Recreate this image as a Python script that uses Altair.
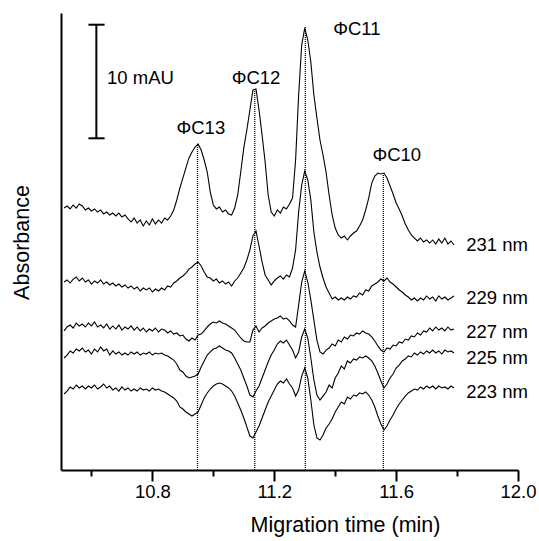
import altair as alt
import pandas as pd

FONT = "Liberation Sans"

# sampling times (min)
time_min = [round(10.51 + 0.01 * i, 2) for i in range(129)]

wavelengths = ["231 nm", "229 nm", "227 nm", "225 nm", "223 nm"]

# absorbance traces (mAU, already offset for display)
abs_231 = [
    23.06, 23.24, 22.98, 23.33, 23.06, 23.42, 23.24, 22.89, 23.06, 22.80,
    22.98, 22.71, 22.89, 22.54, 22.71, 22.45, 22.62, 22.36, 22.62, 22.27,
    22.45, 22.10, 21.83, 22.18, 21.74, 22.01, 21.48, 21.92, 21.57, 22.10,
    21.66, 22.01, 21.74, 22.18, 22.01, 22.36, 22.89, 23.77, 24.82, 25.70,
    26.59, 27.47, 27.99, 28.43, 28.70, 28.17, 27.29, 26.23, 24.47, 23.33,
    22.98, 23.15, 22.71, 22.89, 22.54, 22.45, 23.06, 24.21, 26.23, 28.35,
    29.93, 31.69, 33.45, 33.54, 31.69, 29.49, 27.11, 24.21, 22.71, 22.36,
    22.89, 22.62, 23.15, 22.98, 23.42, 23.94, 27.29, 33.01, 37.41, 38.91,
    37.85, 35.92, 33.01, 30.99, 29.05, 27.73, 26.23, 24.21, 22.45, 21.30,
    20.69, 20.42, 20.60, 20.25, 20.60, 20.86, 21.04, 21.48, 22.01, 22.89,
    23.94, 25.26, 25.88, 26.14, 26.06, 26.14, 25.70, 25.00, 24.30, 23.50,
    22.98, 22.36, 21.66, 21.13, 20.69, 20.42, 20.16, 20.42, 20.07, 20.25,
    19.98, 20.25, 19.89, 20.33, 19.98, 20.42, 19.89, 20.16, 19.81,
]
abs_229 = [
    16.55, 16.73, 16.46, 16.81, 16.99, 16.64, 16.90, 16.55, 16.73, 16.37,
    16.64, 16.46, 16.73, 16.37, 16.55, 16.29, 16.46, 16.20, 16.37, 16.11,
    16.29, 16.02, 16.20, 15.93, 16.11, 15.76, 16.02, 15.85, 16.02, 15.67,
    15.93, 15.76, 16.02, 15.85, 16.20, 16.11, 16.46, 16.64, 16.90, 17.08,
    17.34, 17.69, 17.87, 18.13, 18.31, 17.96, 17.43, 16.99, 16.90, 16.64,
    16.81, 16.46, 16.64, 16.37, 16.55, 16.20, 16.64, 16.90, 17.34, 17.78,
    18.49, 19.37, 20.60, 21.04, 19.72, 18.31, 17.17, 16.73, 16.29, 16.64,
    16.90, 17.08, 16.81, 17.17, 16.99, 17.78, 19.37, 22.71, 25.09, 26.32,
    25.53, 23.77, 20.95, 19.19, 17.87, 16.90, 16.11, 15.58, 15.05, 15.23,
    14.97, 15.14, 14.97, 15.23, 15.05, 15.32, 15.23, 15.58, 15.41, 15.85,
    15.76, 16.20, 16.37, 16.55, 16.81, 16.64, 16.90, 16.55, 16.37, 16.11,
    15.85, 15.67, 15.41, 15.23, 14.97, 15.14, 14.88, 15.14, 14.97, 15.32,
    15.05, 15.23, 14.88, 15.32, 15.05, 15.23, 14.97, 15.14, 15.32,
]
abs_227 = [
    12.24, 12.59, 12.76, 12.50, 12.94, 12.68, 12.85, 12.59, 12.94, 12.68,
    13.03, 12.59, 12.76, 12.50, 12.85, 12.41, 12.68, 12.41, 12.76, 12.32,
    12.59, 12.41, 12.68, 12.32, 12.59, 12.24, 12.50, 12.15, 12.41, 12.24,
    12.50, 12.15, 12.41, 12.32, 12.06, 12.24, 11.97, 12.06, 11.80, 11.88,
    11.53, 11.36, 11.62, 11.44, 11.88, 11.97, 12.24, 12.59, 12.85, 13.03,
    12.94, 13.12, 12.94, 12.85, 12.68, 12.50, 12.32, 11.97, 11.62, 11.36,
    11.27, 11.27, 12.32, 12.68, 12.15, 12.50, 12.68, 12.94, 13.12, 13.29,
    13.38, 13.56, 13.29, 13.38, 13.12, 12.76, 12.59, 14.52, 16.55, 17.52,
    16.55, 14.97, 13.20, 11.44, 10.39, 10.21, 10.56, 10.74, 11.09, 10.92,
    11.44, 11.27, 11.71, 11.53, 11.88, 11.80, 12.06, 11.97, 12.24, 12.06,
    11.97, 11.71, 11.36, 10.92, 10.56, 10.39, 10.74, 10.65, 11.00, 10.92,
    11.27, 11.18, 11.53, 11.44, 11.80, 11.71, 12.06, 11.88, 12.24, 12.15,
    12.50, 12.24, 12.59, 12.32, 12.50, 12.24, 12.59, 12.32, 12.41,
]
abs_225 = [
    9.86, 10.12, 10.48, 10.30, 10.65, 10.48, 10.74, 10.39, 10.56, 10.21,
    10.65, 10.39, 10.83, 10.48, 10.65, 10.12, 10.48, 10.21, 10.39, 10.12,
    10.30, 10.12, 10.39, 10.21, 10.39, 10.12, 10.30, 10.21, 10.39, 10.12,
    10.30, 10.21, 10.30, 10.12, 10.04, 9.86, 9.68, 9.33, 8.80, 8.63,
    8.27, 8.10, 8.19, 8.27, 8.45, 9.07, 9.60, 10.12, 10.39, 10.65,
    10.74, 10.92, 10.74, 10.56, 10.48, 10.30, 9.86, 9.33, 8.80, 8.10,
    7.39, 6.60, 6.43, 6.95, 7.39, 8.10, 8.80, 9.51, 10.12, 10.56,
    11.09, 11.36, 11.18, 11.44, 11.00, 10.56, 9.86, 10.39, 11.71, 12.41,
    11.62, 9.86, 7.92, 6.60, 6.16, 6.51, 6.87, 7.48, 7.22, 8.10,
    8.54, 9.16, 8.89, 9.60, 9.42, 9.77, 9.68, 9.95, 9.86, 10.04,
    9.86, 9.60, 9.16, 8.54, 7.83, 7.22, 7.57, 8.10, 8.45, 8.98,
    9.24, 9.60, 9.77, 10.04, 9.95, 10.30, 10.12, 10.39, 10.21, 10.48,
    10.30, 10.56, 10.30, 10.48, 10.21, 10.56, 10.39, 10.48, 10.30,
]
abs_223 = [
    6.69, 6.95, 7.31, 7.13, 7.48, 7.22, 7.39, 7.13, 7.39, 7.22,
    7.48, 7.13, 7.31, 7.57, 7.22, 7.39, 7.04, 7.22, 6.95, 7.31,
    7.04, 7.22, 6.95, 7.13, 6.95, 7.22, 7.04, 7.13, 6.95, 7.22,
    7.04, 7.13, 6.95, 6.87, 6.69, 6.51, 6.34, 6.07, 5.55, 5.37,
    5.11, 4.93, 4.75, 4.93, 5.11, 5.72, 6.34, 6.78, 7.13, 7.39,
    7.57, 7.66, 7.57, 7.39, 7.22, 6.95, 6.51, 5.90, 5.28, 4.58,
    3.79, 2.99, 2.82, 3.35, 3.87, 4.58, 5.28, 5.99, 6.51, 7.04,
    7.57, 7.83, 7.66, 8.01, 7.57, 7.22, 6.51, 7.04, 8.27, 8.98,
    8.10, 6.16, 3.96, 2.82, 2.64, 3.08, 3.70, 4.05, 4.49, 5.11,
    5.55, 5.99, 5.81, 6.43, 6.25, 6.60, 6.51, 6.78, 6.69, 6.87,
    6.60, 6.16, 5.55, 4.75, 4.05, 3.52, 3.87, 4.40, 4.84, 5.37,
    5.81, 6.16, 6.51, 6.78, 6.95, 7.13, 7.04, 7.31, 7.13, 7.39,
    7.22, 7.39, 7.13, 7.39, 7.22, 7.31, 7.13, 7.39, 7.22,
]

# peaks
peak_names = ["\u03a6C13", "\u03a6C12", "\u03a6C11", "\u03a6C10"]
peak_times = [10.948, 11.136, 11.302, 11.558]
peak_tops = [28.7, 33.6, 39.0, 26.1]
peak_label_t = [10.959, 11.140, 11.471, 11.602]
peak_label_v = [30.1, 34.5, 38.8, 27.7]

# wavelength labels at the end of each trace
wl_label_t = 11.83
wl_label_v = [19.81, 15.14, 12.15, 9.86, 6.87]

# scale bar: 10 mAU
bar_t = 10.616
bar_low, bar_high = 29.2, 39.2
bar_cap = [10.590, 10.643]
bar_text = "10 mAU"

x_ticks = [10.6, 10.8, 11.0, 11.2, 11.4, 11.6, 11.8, 12.0]

# ---------- tables ----------
series = [abs_231, abs_229, abs_227, abs_225, abs_223]
rows = []
for wl, vals in zip(wavelengths, series):
    for t, v in zip(time_min, vals):
        rows.append({"t": t, "v": v, "wl": wl})
traces = pd.DataFrame(rows)

peaks = pd.DataFrame({"t": peak_times, "v": [0.0] * 4, "v2": peak_tops})
peak_labels = pd.DataFrame({"t": peak_label_t, "v": peak_label_v, "label": peak_names})
wl_labels = pd.DataFrame({"t": [wl_label_t] * 5, "v": wl_label_v, "label": wavelengths})
bar_v = pd.DataFrame({"t": [bar_t], "v": [bar_low], "v2": [bar_high]})
bar_caps = pd.DataFrame({"t": [bar_cap[0]] * 2, "t2": [bar_cap[1]] * 2, "v": [bar_low, bar_high]})
bar_lbl = pd.DataFrame({"t": [10.651], "v": [34.5], "label": [bar_text]})

x_axis = alt.Axis(
    values=x_ticks,
    labelExpr="round(datum.value*10) % 4 == 0 ? format(datum.value, '.1f') : ''",
    tickSize={"condition": {"test": "round(datum.value*10) % 4 == 0", "value": 11}, "value": 6},
    tickWidth=2, tickColor="black", domainWidth=2, domainColor="black",
    labelFont=FONT, labelFontSize=18.5, labelColor="black", labelBaseline="alphabetic",
    labelPadding=16, labelFlush=False, labelOverlap=False,
    title="Migration time (min)", titleFont=FONT, titleFontSize=21.5, titleFontWeight="normal",
    titleColor="black", titleX=284, titleY=61, titleBaseline="alphabetic", titleAlign="center",
    grid=False,
)
y_axis = alt.Axis(
    ticks=False, labels=False, domainWidth=2, domainColor="black", grid=False,
    title="Absorbance", titleFont=FONT, titleFontSize=21.5, titleFontWeight="normal",
    titleColor="black", titleX=-33, titleY=229, titleAngle=-90,
    titleBaseline="alphabetic", titleAlign="center",
)
xs = alt.Scale(domain=[10.5, 12.0], nice=False, zero=False)
ys = alt.Scale(domain=[0, 40.23], nice=False, zero=False)

X = alt.X("t:Q", scale=xs, axis=x_axis)
Y = alt.Y("v:Q", scale=ys, axis=y_axis)

lines = alt.Chart(traces).mark_line(color="black", strokeWidth=1.1).encode(
    x=X, y=Y, detail="wl:N", order="t:Q"
)
dots = alt.Chart(peaks).mark_rule(color="black", strokeWidth=1.3, strokeDash=[1, 1]).encode(
    x=X, y=Y, y2="v2:Q"
)
plabels = alt.Chart(peak_labels).mark_text(
    font=FONT, fontSize=18.5, color="black", align="center", baseline="middle"
).encode(x=X, y=Y, text="label:N")
wlabels = alt.Chart(wl_labels).mark_text(
    font=FONT, fontSize=18.5, color="black", align="left", baseline="middle"
).encode(x=X, y=Y, text="label:N")
bar = alt.Chart(bar_v).mark_rule(color="black", strokeWidth=2).encode(x=X, y=Y, y2="v2:Q")
caps = alt.Chart(bar_caps).mark_rule(color="black", strokeWidth=2).encode(x=X, x2="t2:Q", y=Y)
blabel = alt.Chart(bar_lbl).mark_text(
    font=FONT, fontSize=18.5, color="black", align="left", baseline="middle"
).encode(x=X, y=Y, text="label:N")

chart = alt.layer(lines, dots, plabels, wlabels, bar, caps, blabel).properties(
    width=457, height=457,
    padding={"left": 61, "top": 13, "right": 21, "bottom": 71},
    autosize=alt.AutoSizeParams(type="none"),
    background="white",
).configure_view(stroke=None)

chart.save("out.html", embed_options={"renderer": "svg", "actions": False})
